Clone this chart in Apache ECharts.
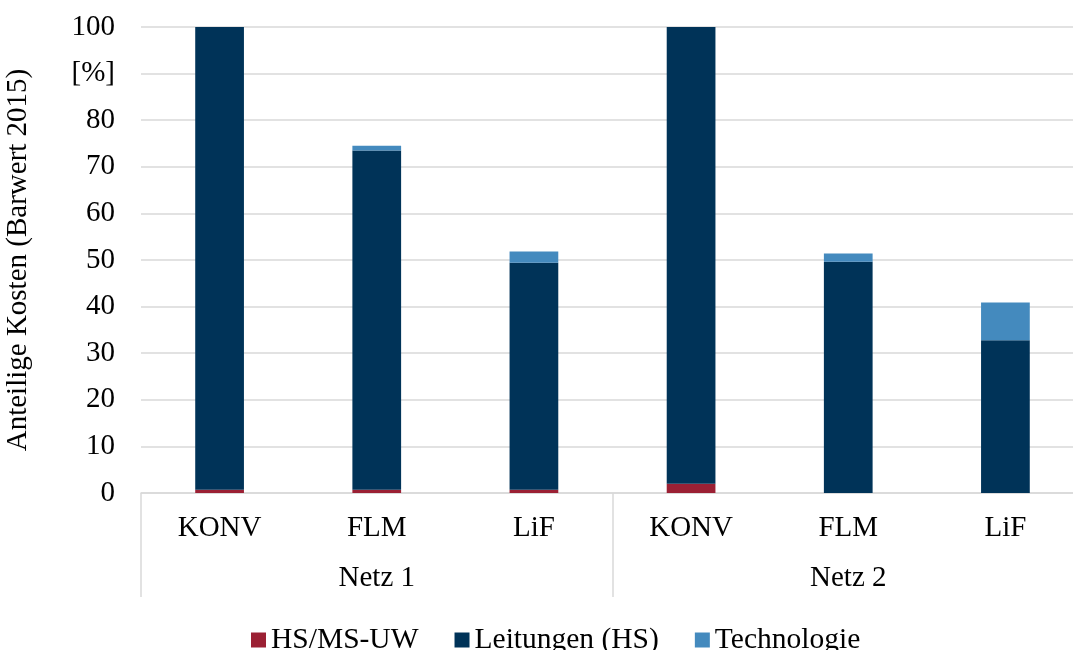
<!DOCTYPE html>
<html>
<head>
<meta charset="utf-8">
<script src="https://cdn.jsdelivr.net/npm/echarts@6/dist/echarts.min.js"></script>
<style>
  html, body { margin: 0; padding: 0; background: #ffffff; }
  #chart { width: 1073px; height: 650px; }
</style>
</head>
<body>
<div id="chart"></div>
<script>
// Variants per network and the network groups
const variants = ['KONV', 'FLM', 'LiF', 'KONV', 'FLM', 'LiF'];
const networks = ['Netz 1', 'Netz 2'];

// Cost shares in % (present value 2015)
const hsmsUW      = [0.7, 0.7, 0.7, 2.0, 0.0, 0.0];
const leitungenHS = [99.3, 72.8, 48.7, 98.0, 49.6, 32.8];
const technologie = [0.0, 1.0, 2.4, 0.0, 1.8, 8.1];

// Y axis ticks; the tick at 90 carries the unit
const yTicks = [0, 10, 20, 30, 40, 50, 60, 70, 80, 90, 100];
const unitTick = 90;
const unitLabel = '[%]';

const FONT = '"Liberation Serif", "Times New Roman", serif';
const FS = 29;
const TXT = '#000000';
const GRID_GRAY = '#d9d9d9';

const chart = echarts.init(document.getElementById('chart'), null, { renderer: 'canvas' });

chart.setOption({
  animation: false,
  backgroundColor: '#ffffff',
  textStyle: { fontFamily: FONT, color: TXT },
  grid: {
    left: 141, top: 27, width: 943, height: 466,
    containLabel: false, outerBoundsMode: 'none'
  },
  legend: {
    top: 620,
    left: 246,
    itemWidth: 15,
    itemHeight: 15,
    itemGap: 36,
    icon: 'rect',
    textStyle: { fontFamily: FONT, fontSize: 29.5, color: TXT },
    data: ['HS/MS-UW', 'Leitungen (HS)', 'Technologie']
  },
  xAxis: [
    {
      type: 'category',
      data: variants,
      position: 'bottom',
      axisLine: { show: true, lineStyle: { color: GRID_GRAY, width: 1.5 } },
      axisTick: { show: false },
      axisLabel: { fontFamily: FONT, fontSize: FS, color: TXT, margin: 21, interval: 0 }
    },
    {
      type: 'category',
      data: networks,
      position: 'bottom',
      offset: 0,
      axisLine: { show: false },
      axisTick: { show: true, length: 104, lineStyle: { color: GRID_GRAY, width: 1.5 } },
      axisLabel: { fontFamily: FONT, fontSize: FS, color: TXT, margin: 71, interval: 0 }
    }
  ],
  yAxis: {
    type: 'value',
    min: yTicks[0],
    max: yTicks[yTicks.length - 1],
    interval: yTicks[1] - yTicks[0],
    name: 'Anteilige Kosten (Barwert 2015)',
    nameLocation: 'middle',
    nameGap: 108,
    nameRotate: 90,
    nameTextStyle: { fontFamily: FONT, fontSize: FS, color: TXT },
    axisLine: { show: false },
    axisTick: { show: false },
    axisLabel: {
      fontFamily: FONT, fontSize: FS, color: TXT, margin: 26,
      formatter: v => (v === unitTick ? unitLabel : String(v))
    },
    splitLine: { show: true, lineStyle: { color: GRID_GRAY, width: 1.5 } }
  },
  series: [
    {
      name: 'HS/MS-UW', type: 'bar', stack: 'kosten', data: hsmsUW,
      barWidth: '31%', itemStyle: { color: '#9b2034' }
    },
    {
      name: 'Leitungen (HS)', type: 'bar', stack: 'kosten', data: leitungenHS,
      barWidth: '31%', itemStyle: { color: '#003358' }
    },
    {
      name: 'Technologie', type: 'bar', stack: 'kosten', data: technologie,
      barWidth: '31%', itemStyle: { color: '#448abe' }
    }
  ]
});
</script>
</body>
</html>
